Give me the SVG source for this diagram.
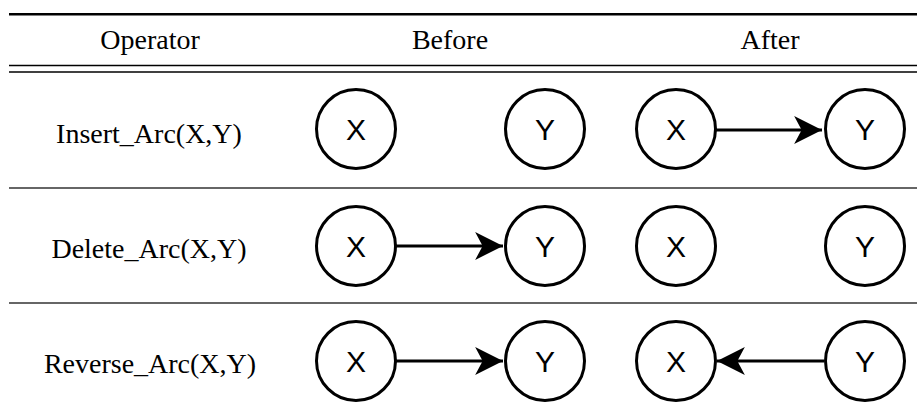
<svg xmlns="http://www.w3.org/2000/svg" width="917" height="415" viewBox="0 0 917 415">
<style>
.rule{stroke:#000;fill:none}
.sep{stroke:#333;stroke-width:1.5;fill:none}
.hdr{font-family:"Liberation Serif","Times New Roman",serif;font-size:28px;fill:#000;text-anchor:middle}
.node circle{fill:#fff;stroke:#000;stroke-width:3}
.node text{font-family:"Liberation Sans",Arial,sans-serif;font-size:30px;fill:#000;text-anchor:middle}
.edge{stroke:#000;stroke-width:3;fill:none}
</style>
<defs>
<marker id="arr" markerUnits="userSpaceOnUse" markerWidth="30" markerHeight="30" viewBox="-27 -14 28 28" refX="0" refY="0" orient="auto">
<path d="M0,0 L-26,-13 L-19,0 L-26,13 Z" fill="#000"/>
</marker>
</defs>
<rect width="917" height="415" fill="#fff"/>
<g id="table">
<line class="rule" x1="9" y1="14.3" x2="917" y2="14.3" stroke-width="2.5"/>
<line class="rule" x1="9" y1="65.5" x2="917" y2="65.5" stroke-width="1.4"/>
<line class="rule" x1="9" y1="72" x2="917" y2="72" stroke-width="1.4"/>
<line class="sep" x1="9" y1="188" x2="917" y2="188"/>
<line class="sep" x1="9" y1="303" x2="917" y2="303"/>
<text class="hdr" x="150" y="49">Operator</text>
<text class="hdr" x="450" y="49">Before</text>
<text class="hdr" x="770" y="49">After</text>
<text class="hdr" x="149" y="143">Insert_Arc(X,Y)</text>
<text class="hdr" x="149" y="258">Delete_Arc(X,Y)</text>
<text class="hdr" x="150" y="373">Reverse_Arc(X,Y)</text>
</g>
<g id="connectors">
<line class="edge" x1="716" y1="130" x2="822" y2="130" marker-end="url(#arr)"/>
<line class="edge" x1="396" y1="246" x2="503" y2="246" marker-end="url(#arr)"/>
<line class="edge" x1="396" y1="361" x2="503" y2="361" marker-end="url(#arr)"/>
<line class="edge" x1="824" y1="361" x2="717" y2="361" marker-end="url(#arr)"/>
</g>
<g id="r1-before-X" class="node"><circle cx="356" cy="129" r="39.5"/><text x="356" y="140">X</text></g>
<g id="r1-before-Y" class="node"><circle cx="545" cy="129" r="39.5"/><text x="545" y="140">Y</text></g>
<g id="r1-after-X" class="node"><circle cx="676" cy="129" r="39.5"/><text x="676" y="140">X</text></g>
<g id="r1-after-Y" class="node"><circle cx="865" cy="129" r="39.5"/><text x="865" y="140">Y</text></g>
<g id="r2-before-X" class="node"><circle cx="356" cy="246" r="39.5"/><text x="356" y="257">X</text></g>
<g id="r2-before-Y" class="node"><circle cx="545" cy="246" r="39.5"/><text x="545" y="257">Y</text></g>
<g id="r2-after-X" class="node"><circle cx="676" cy="246" r="39.5"/><text x="676" y="257">X</text></g>
<g id="r2-after-Y" class="node"><circle cx="865" cy="246" r="39.5"/><text x="865" y="257">Y</text></g>
<g id="r3-before-X" class="node"><circle cx="356" cy="361" r="39.5"/><text x="356" y="372">X</text></g>
<g id="r3-before-Y" class="node"><circle cx="545" cy="361" r="39.5"/><text x="545" y="372">Y</text></g>
<g id="r3-after-X" class="node"><circle cx="676" cy="361" r="39.5"/><text x="676" y="372">X</text></g>
<g id="r3-after-Y" class="node"><circle cx="865" cy="361" r="39.5"/><text x="865" y="372">Y</text></g>
</svg>
